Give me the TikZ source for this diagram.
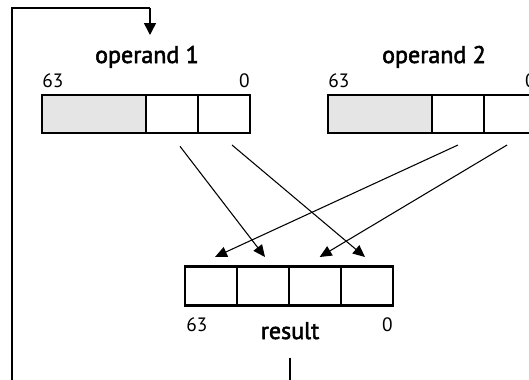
\documentclass[tikz,border=0pt]{standalone}
\usepackage{fontspec}
\setmainfont{PT Sans}
\newfontfamily\lblfont{PT Sans}[FakeBold=2.2]
\usetikzlibrary{arrows.meta,calc}
\begin{document}
\begin{tikzpicture}[x=0.75pt,y=-0.75pt,
  cell/.style={draw=black,line width=2pt,minimum width=39pt,minimum height=28.5pt,inner sep=0pt,outer sep=0pt},
  wide/.style={cell,minimum width=78pt,fill=black!10},
  rcell/.style={cell,minimum height=29.5pt},
  lbl/.style={font=\lblfont\fontsize{18}{21}\selectfont,inner sep=0pt,anchor=base},
  num/.style={font=\fontsize{14.5}{16}\selectfont,inner sep=0pt},
  arr/.style={line width=0.8pt,-{Triangle[length=9pt,width=8pt]}},
  fb/.style={line width=1.1pt}]
\useasboundingbox (0,0) rectangle (529,379);
\clip (0,0) rectangle (529,379);
% operand 1
\node[wide] (o1a) at (94,114) {};
\node[cell] (o1b) at (172,114) {};
\node[cell] (o1c) at (224,114) {};
\node[lbl] (l1) at (147,63) {operand 1};
\node[num,anchor=base west] (n1a) at (42,87) {63};
\node[num,anchor=base east] (n1b) at (250,87) {0};
% operand 2
\node[wide] (o2a) at (380,114) {};
\node[cell] (o2b) at (458,114) {};
\node[cell] (o2c) at (510,114) {};
\node[lbl] (l2) at (434,63) {operand 2};
\node[num,anchor=base west] (n2a) at (328,87) {63};
\node[num,anchor=base east] (n2b) at (536,87) {0};
% result
\node[rcell] (r1) at (211,286) {};
\node[rcell] (r2) at (263,286) {};
\node[rcell] (r3) at (315,286) {};
\node[rcell] (r4) at (367,286) {};
\node[lbl] (lr) at (290,339) {result};
\node[num,anchor=base west] (nra) at (186,331) {63};
\node[num,anchor=base east] (nrb) at (393,331) {0};
% arrows
\draw[arr] ([xshift=6pt,yshift=-10pt]o1b.south) -- ([xshift=1.5pt,yshift=7pt]r2.north);
\draw[arr] ([xshift=6pt,yshift=-9pt]o1c.south) -- ([xshift=-1.5pt,yshift=7pt]r4.north);
\draw[arr] ([yshift=-9pt]o2b.south) -- ([xshift=3pt,yshift=7pt]r1.north);
\draw[arr] ([xshift=-2.2pt,yshift=-9pt]o2c.south) -- ([xshift=3.5pt,yshift=7pt]r3.north);
% feedback loop
\coordinate (fbot) at (12,381);
\coordinate (ftop) at (12,8);
\coordinate (fcorner) at (150,8);
\draw[fb] (fbot) -- (ftop) -- (fcorner);
\draw[fb,-{Triangle[length=9pt,width=9pt]}] (fcorner) -- (150,35) coordinate (ftip);
\coordinate (rbot) at (290,381);
\draw[line width=0.9pt] ([yshift=-14pt]lr.base) -- (rbot);
\end{tikzpicture}
\end{document}
